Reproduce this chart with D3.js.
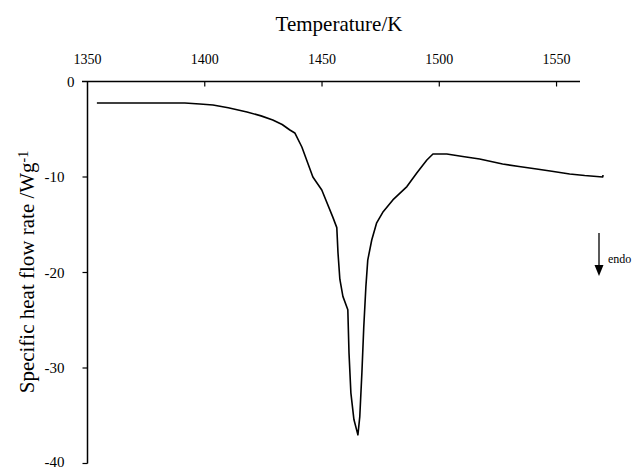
<!DOCTYPE html>
<html>
<head>
<meta charset="utf-8">
<script src="https://cdn.jsdelivr.net/npm/d3@7"></script>
<style>
  body { margin: 0; background: #fff; }
</style>
</head>
<body>
<script>
// DSC trace
var temps = [1354.0, 1391.5, 1397.9, 1403.5, 1410.0, 1418.0, 1424.0, 1429.0, 1433.0, 1436.3,
             1438.4, 1441.4, 1446.1, 1449.9, 1454.6, 1456.3, 1456.8, 1457.6, 1458.9, 1461.0,
             1461.5, 1462.3, 1463.6, 1465.3, 1466.1, 1467.0, 1467.8, 1468.7, 1469.5, 1471.2,
             1473.3, 1475.9, 1480.2, 1486.2, 1490.4, 1494.7, 1497.3, 1503.2, 1510.0, 1517.2,
             1527.0, 1534.0, 1541.5, 1548.0, 1555.6, 1562.0, 1569.7, 1569.8];
var heatFlow = [-2.25, -2.25, -2.36, -2.46, -2.75, -3.19, -3.6, -4.03, -4.5, -5.08,
                -5.39, -6.86, -10.0, -11.36, -14.2, -15.3, -17.9, -20.7, -22.5, -23.9,
                -28.4, -32.6, -35.4, -37.0, -35.1, -30.5, -25.7, -21.5, -18.7, -16.6,
                -14.8, -13.7, -12.4, -11.0, -9.58, -8.22, -7.59, -7.59, -7.85, -8.12,
                -8.64, -8.9, -9.16, -9.4, -9.69, -9.85, -10.0, -9.79];
var tempTicks = [1350, 1400, 1450, 1500, 1550];
var flowTicks = [0, -10, -20, -30, -40];

var width = 638, height = 470;
var serif = "'Liberation Serif', 'Times New Roman', serif";

var svg = d3.select("body").append("svg")
    .attr("width", width)
    .attr("height", height)
    .attr("font-family", serif);

var x = d3.scaleLinear().domain([1350, 1560]).range([87.5, 580]);
var y = d3.scaleLinear().domain([0, -40]).range([81.5, 463.5]);

// top axis (temperature)
var tAxis = svg.append("g").attr("transform", "translate(0," + y(0) + ")");
tAxis.append("line")
    .attr("x1", 82).attr("x2", x(1560))
    .attr("stroke", "#000").attr("stroke-width", 1.5);
tAxis.selectAll(".tick")
    .data(tempTicks.filter(function(d) { return d != 1350; }))
  .enter().append("line")
    .attr("x1", function(d) { return x(d); })
    .attr("x2", function(d) { return x(d); })
    .attr("y1", 0).attr("y2", 5)
    .attr("stroke", "#000").attr("stroke-width", 1.2);
tAxis.selectAll(".lbl")
    .data(tempTicks)
  .enter().append("text")
    .attr("x", function(d) { return x(d); })
    .attr("y", -18)
    .attr("text-anchor", "middle")
    .attr("font-family", serif)
    .attr("font-size", 14)
    .text(function(d) { return d; });

svg.append("text")
    .attr("x", 339).attr("y", 31)
    .attr("text-anchor", "middle")
    .attr("font-family", serif)
    .attr("font-size", 21)
    .text("Temperature/K");

// left axis (heat flow)
var fAxis = svg.append("g").attr("transform", "translate(" + x(1350) + ",0)");
fAxis.append("line")
    .attr("y1", y(0)).attr("y2", y(-40))
    .attr("stroke", "#000").attr("stroke-width", 1.5);
fAxis.selectAll(".tick")
    .data(flowTicks.filter(function(d) { return d != 0; }))
  .enter().append("line")
    .attr("x1", -5).attr("x2", 0)
    .attr("y1", function(d) { return y(d); })
    .attr("y2", function(d) { return y(d); })
    .attr("stroke", "#000").attr("stroke-width", 1.2);
fAxis.selectAll(".lbl")
    .data(flowTicks)
  .enter().append("text")
    .attr("x", function(d) { return d == 0 ? -13 : -23; })
    .attr("y", function(d) { return y(d); })
    .attr("dy", function(d) { return d == -40 ? "0.2em" : "0.35em"; })
    .attr("text-anchor", "end")
    .attr("font-family", serif)
    .attr("font-size", 15)
    .text(function(d) { return d; });

var ylab = svg.append("text")
    .attr("transform", "translate(34,272) rotate(-90)")
    .attr("text-anchor", "middle")
    .attr("font-family", serif)
    .attr("font-size", 21);
ylab.append("tspan").text("Specific heat flow rate /Wg");
ylab.append("tspan").attr("dy", "-0.45em").attr("font-size", 14).text("-1");

// the trace
var line = d3.line()
    .x(function(d, i) { return x(temps[i]); })
    .y(function(d) { return y(d); })
    .curve(d3.curveLinear);

svg.append("path")
    .datum(heatFlow)
    .attr("d", line)
    .attr("fill", "none")
    .attr("stroke", "#000")
    .attr("stroke-width", 1.6)
    .attr("stroke-linejoin", "round");

// endo arrow
svg.append("line")
    .attr("x1", 599).attr("x2", 599)
    .attr("y1", 233).attr("y2", 266)
    .attr("stroke", "#000").attr("stroke-width", 1.3);
svg.append("path")
    .attr("d", "M594.5,265 L603.5,265 L599,276 Z")
    .attr("fill", "#000");
svg.append("text")
    .attr("x", 608).attr("y", 263)
    .attr("font-family", serif)
    .attr("font-size", 12)
    .text("endo");
</script>
</body>
</html>
